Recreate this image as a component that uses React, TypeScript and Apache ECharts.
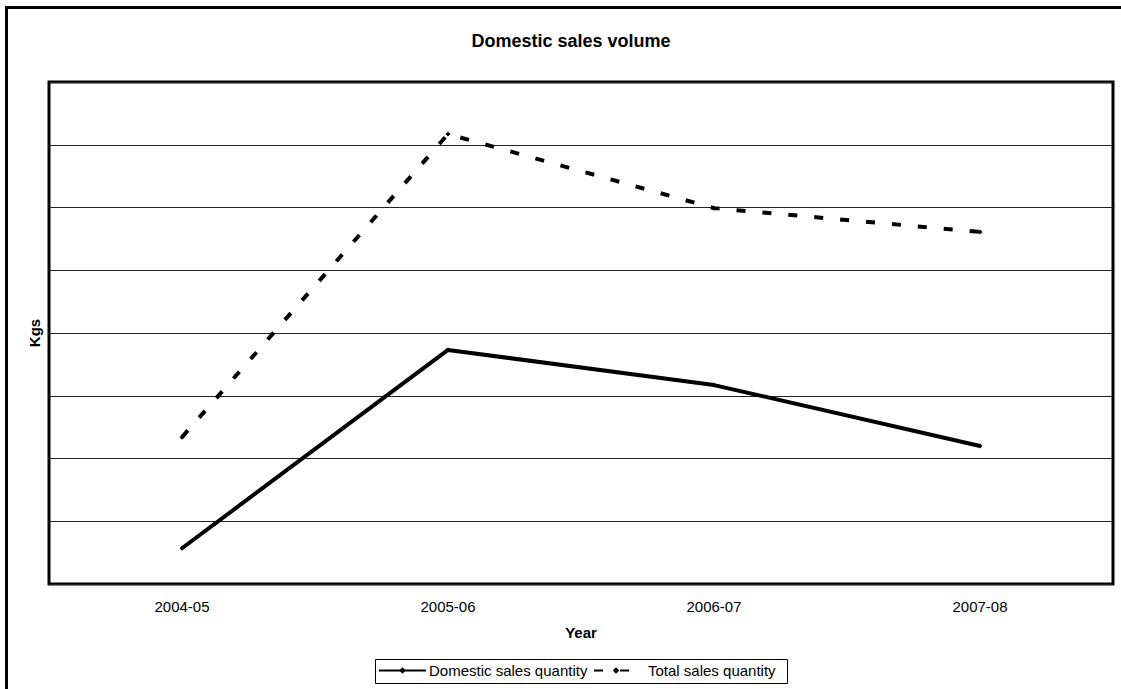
import React, { useEffect, useRef } from "react";
import * as echarts from "echarts";

const years = ["2004-05", "2005-06", "2006-07", "2007-08"];
const domesticQty = [57, 373, 317, 220];
const totalQty = [234, 717, 599, 561];
const yMin = 0;
const yMax = 800;
const yStep = 100;

const FONT = 'Arial, "Liberation Sans", sans-serif';

export default function App() {
  const ref = useRef<HTMLDivElement>(null);

  useEffect(() => {
    if (!ref.current) return;
    const chart = echarts.init(ref.current, undefined, { renderer: "svg" });
    chart.setOption({
      animation: false,
      backgroundColor: "#ffffff",
      textStyle: { fontFamily: FONT, color: "#000" },
      title: {
        text: "Domestic sales volume",
        left: 566,
        textAlign: "center",
        top: 27,
        textStyle: { fontFamily: FONT, fontSize: 18, fontWeight: "bold", color: "#000" },
      },
      grid: {
        left: 49,
        right: 8,
        top: 82,
        bottom: 105,
        show: true,
        borderColor: "#000",
        borderWidth: 3,
        backgroundColor: "transparent",
      },
      xAxis: {
        type: "category",
        data: years,
        boundaryGap: true,
        name: "Year",
        nameLocation: "middle",
        nameGap: 41,
        nameTextStyle: { fontFamily: FONT, fontSize: 15, fontWeight: "bold", color: "#000" },
        axisLine: { show: false },
        axisTick: { show: false },
        axisLabel: { fontFamily: FONT, fontSize: 15, color: "#000", margin: 15 },
        splitLine: { show: false },
      },
      yAxis: {
        type: "value",
        min: yMin,
        max: yMax,
        interval: yStep,
        name: "Kgs",
        nameLocation: "middle",
        nameRotate: 90,
        nameGap: 7,
        nameTextStyle: { fontFamily: FONT, fontSize: 15, fontWeight: "bold", color: "#000" },
        axisLine: { show: false },
        axisTick: { show: false },
        axisLabel: { show: false },
        splitLine: { show: true, lineStyle: { color: "#222", width: 1 } },
      },
      legend: [
        {
          left: 378,
          top: 663,
          padding: 0,
          itemWidth: 47,
          itemHeight: 8,
          itemGap: 0,
          data: ["Domestic sales quantity"],
          textStyle: { fontFamily: FONT, fontSize: 15, color: "#000", padding: [0, 0, 0, -2] },
        },
        {
          left: 593,
          top: 663,
          padding: 0,
          itemWidth: 44,
          itemHeight: 8,
          itemGap: 0,
          data: ["Total sales quantity"],
          textStyle: { fontFamily: FONT, fontSize: 15, color: "#000", padding: [0, 0, 0, 5] },
        },
      ],
      graphic: [
        // outer frame: only its left and top edges fall inside the canvas
        {
          type: "line",
          silent: true,
          shape: { x1: 6.5, y1: 6, x2: 6.5, y2: 689 },
          style: { stroke: "#000", lineWidth: 3 },
        },
        {
          type: "line",
          silent: true,
          shape: { x1: 5, y1: 7.5, x2: 1121, y2: 7.5 },
          style: { stroke: "#000", lineWidth: 3 },
        },
        {
          type: "rect",
          silent: true,
          shape: { x: 375.5, y: 659.5, width: 412, height: 24 },
          style: { fill: "none", stroke: "#000", lineWidth: 1 },
        },
      ],
      series: [
        {
          name: "Domestic sales quantity",
          type: "line",
          data: domesticQty,
          symbol: "diamond",
          symbolSize: 5,
          itemStyle: { color: "#000" },
          lineStyle: { color: "#000", width: 4, cap: "butt" },
        },
        {
          name: "Total sales quantity",
          type: "line",
          data: totalQty,
          symbol: "diamond",
          symbolSize: 5,
          itemStyle: { color: "#000" },
          lineStyle: { color: "#000", width: 4, type: [9, 17], cap: "butt" },
        },
      ],
    });
    return () => chart.dispose();
  }, []);

  return (
    <div
      ref={ref}
      style={{ position: "fixed", left: 0, top: 0, width: 1121, height: 689 }}
    />
  );
}
